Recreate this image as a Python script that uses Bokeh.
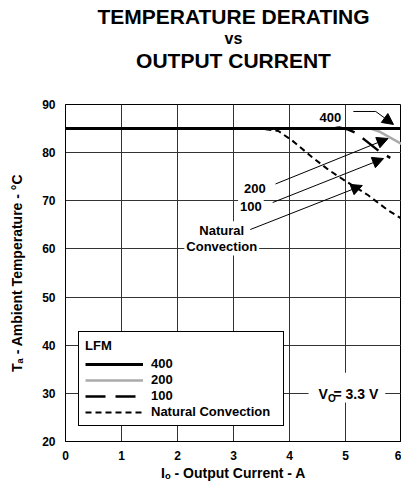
from bokeh.plotting import figure
from bokeh.models import (Range1d, Label, Arrow, NormalHead, Legend, LegendItem,
                          BoxAnnotation, FixedTicker, Title)
from bokeh.embed import file_html
from bokeh.resources import INLINE

# ---------------- data ----------------
current_400 = [0.0, 6.0]
temp_400 = [85.0, 85.0]

current_200 = [0.0, 5.45, 5.6, 6.0]
temp_200 = [85.0, 85.0, 84.4, 81.8]

current_100 = [0.0, 4.7, 4.9, 5.05, 5.2, 5.35, 5.6, 5.8]
temp_100 = [85.0, 85.0, 85.2, 84.8, 84.0, 82.6, 80.3, 78.9]

current_nc = [0.0, 3.5, 3.8, 4.05, 4.4, 4.7, 5.0, 5.4, 5.75, 6.0]
temp_nc = [85.0, 85.0, 84.5, 82.5, 79.1, 76.4, 74.1, 71.2, 68.1, 66.3]

x_ticks = [0, 1, 2, 3, 4, 5, 6]
y_ticks = [20, 30, 40, 50, 60, 70, 80, 90]

legend_labels = ["400", "200", "100", "Natural Convection"]

# ---------------- layout ----------------
W, H = 401, 483
BL, BR, BT = 65, 0, 104
FH = 337
BB = H - BT - FH
FONT = "Liberation Sans"

p = figure(width=W, height=H, x_range=Range1d(0, 6), y_range=Range1d(20, 90),
           output_backend="svg", toolbar_location=None, title=None,
           min_border_left=BL, min_border_right=BR,
           min_border_top=BT, min_border_bottom=BB)
p.background_fill_color = "white"
p.border_fill_color = "white"
p.outline_line_color = "black"
p.outline_line_width = 1

# title (innermost first)
p.add_layout(Title(text="OUTPUT CURRENT", align="center", offset=4, standoff=0,
                   padding=dict(left=0, right=0, top=0, bottom=33),
                   text_font=FONT, text_font_style="bold",
                   text_font_size="21px", text_color="black"), "above")
p.add_layout(Title(text="vs", align="center", offset=4, standoff=0,
                   text_font=FONT, text_font_style="bold",
                   text_font_size="16px", text_color="black"), "above")
p.add_layout(Title(text="TEMPERATURE DERATING", align="center", offset=4,
                   standoff=0, text_font=FONT, text_font_style="bold",
                   text_font_size="21px", text_color="black"), "above")

p.xaxis.ticker = FixedTicker(ticks=x_ticks)
p.yaxis.ticker = FixedTicker(ticks=y_ticks)
for ax in (p.xaxis[0], p.yaxis[0]):
    ax.major_tick_out = 0
    ax.major_tick_in = 0
    ax.minor_tick_out = 0
    ax.minor_tick_in = 0
    ax.axis_line_color = "black"
    ax.major_label_text_font = FONT
    ax.major_label_text_font_style = "bold"
    ax.major_label_text_font_size = "12px"
    ax.major_label_text_color = "black"
    ax.axis_label_text_font = FONT
    ax.axis_label_text_font_style = "bold"
    ax.axis_label_text_font_size = "14px"
    ax.axis_label_text_color = "black"
p.xaxis.major_label_standoff = 9
p.yaxis.major_label_standoff = 10
p.xaxis.axis_label = "I\u2092 - Output Current - A"
p.yaxis.axis_label = "T\u2090 - Ambient Temperature - \u00b0C"
p.xaxis.axis_label_standoff = 2
p.yaxis.axis_label_standoff = 14

p.grid.grid_line_color = "#333333"
p.grid.grid_line_width = 1
p.grid.grid_line_alpha = 1.0

# ---------------- curves ----------------
r200 = p.line(current_200, temp_200, line_color="#aaaaaa", line_width=2.5)
r100 = p.line(current_100, temp_100, line_color="black", line_width=2.5,
              line_dash="20 10")
rnc = p.line(current_nc, temp_nc, line_color="black", line_width=2,
             line_dash="6 4")
r400 = p.line(current_400, temp_400, line_color="black", line_width=3)

legend = Legend(
    items=[LegendItem(label=legend_labels[0], renderers=[r400]),
           LegendItem(label=legend_labels[1], renderers=[r200]),
           LegendItem(label=legend_labels[2], renderers=[r100]),
           LegendItem(label=legend_labels[3], renderers=[rnc])],
    location=(13, 15), title="LFM",
    border_line_color="black", border_line_width=1, border_line_alpha=1.0,
    background_fill_color="white", background_fill_alpha=1.0,
    padding=6, margin=0, spacing=1,
    glyph_width=58, glyph_height=14, label_height=14, label_width=126,
    label_standoff=8,
    label_text_font=FONT, label_text_font_style="bold",
    label_text_font_size="13px", label_text_color="black",
    title_text_font=FONT, title_text_font_style="bold",
    title_text_font_size="13px", title_text_color="black", title_standoff=3)
p.add_layout(legend)


# ---------------- annotations ----------------
def lab(text, x, y, size="13px", align="left", baseline="middle", bg=False,
        xo=0, yo=0):
    kw = dict(x=x, y=y, text=text, text_font=FONT, text_font_style="bold",
              text_font_size=size, text_align=align, text_baseline=baseline,
              text_color="black", x_offset=xo, y_offset=yo)
    if bg:
        kw.update(background_fill_color="white", background_fill_alpha=1.0,
                  padding=2)
    p.add_layout(Label(**kw))


def arrow(x0, y0, x1, y1, head=True):
    end = NormalHead(size=11, fill_color="black", line_color="black",
                     line_width=1) if head else None
    p.add_layout(Arrow(end=end, x_start=x0, y_start=y0, x_end=x1, y_end=y1,
                       line_color="black", line_width=1))


# white box behind V_O note
p.add_layout(BoxAnnotation(left=4.34, right=5.71, bottom=28.1, top=34.3,
                           fill_color="white", fill_alpha=1.0, line_alpha=0))

lab("400", 4.96, 87.3, align="right", bg=True)
lab("200", 3.61, 72.65, align="right", bg=True)
lab("100", 3.54, 68.8, align="right", bg=True)
lab("Natural", 2.79, 63.8, align="center", bg=True)
lab("Convection", 2.79, 60.6, align="center", bg=True)

arrow(5.14, 88.55, 5.54, 88.55, head=False)
arrow(5.54, 88.55, 5.857, 85.85)
arrow(3.75, 73.49, 5.76, 82.94)
arrow(3.70, 69.64, 5.68, 78.78)
arrow(3.30, 64.03, 5.30, 73.17)

# V_O = 3.3 V
lab("V", 4.518, 29.97, size="14px", baseline="alphabetic")
lab("O", 4.518, 29.97, size="10px", baseline="alphabetic", xo=9.5, yo=-5)
lab("= 3.3 V", 4.518, 29.97, size="14px", baseline="alphabetic", xo=15)

open("out.html", "w").write(file_html(p, INLINE))
